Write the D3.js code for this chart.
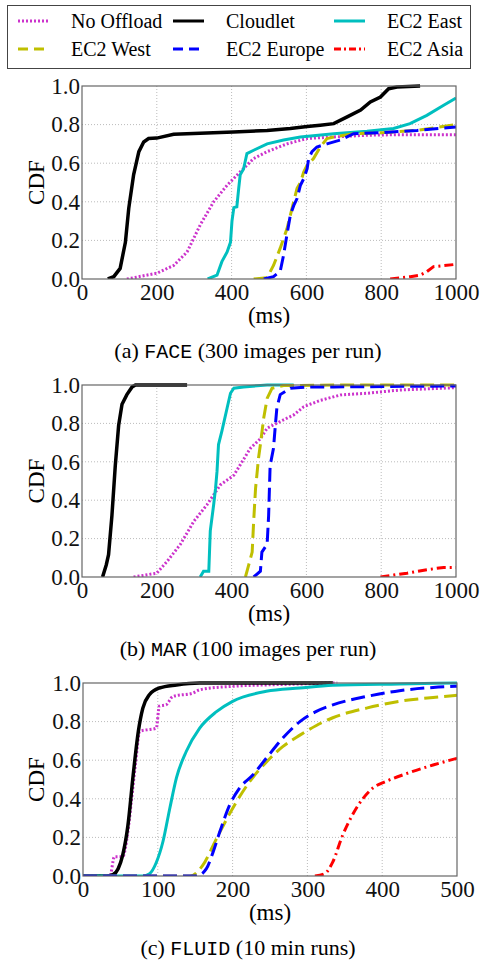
<!DOCTYPE html>
<html>
<head>
<meta charset="utf-8">
<script src="https://cdn.jsdelivr.net/npm/d3@7.9.0/dist/d3.min.js"></script>
<style>
  body { margin: 0; background: #fff; }
  svg { display: block; font-family: "Liberation Serif", "Times New Roman", serif; }
  .mono { font-family: "Liberation Mono", "Courier New", monospace; }
</style>
</head>
<body>
<svg id="chart" width="485" height="968"></svg>
<script>
// series names & styles (legend order)
const seriesNames = ["No Offload", "Cloudlet", "EC2 East", "EC2 West", "EC2 Europe", "EC2 Asia"];
const seriesColors = ["#cc33cc", "#000000", "#00bfbf", "#bfbf00", "#0000ff", "#ff0000"];
const seriesDash = ["2,2", null, null, "14,6", "14,6", "9,4,2,4"];
const legendDash = ["2,2", null, null, "10,6", "10,6", "7,3,2,3"];

// (a) FACE: [ms, cdf]
const faceNoOffload = [[120,0],[200,0.03],[245,0.07],[281,0.14],[316,0.28],[352,0.40],[388,0.486],[423,0.555],[459,0.624],[495,0.66],[548,0.70],[602,0.728],[673,0.736],[762,0.745],[851,0.748],[1000,0.748]];
const faceCloudlet = [[69,0],[85,0.012],[102,0.055],[116,0.19],[125,0.366],[138,0.54],[152,0.66],[165,0.71],[178,0.728],[200,0.73],[245,0.75],[316,0.755],[405,0.762],[495,0.77],[557,0.78],[602,0.79],[637,0.797],[673,0.805],[709,0.84],[745,0.875],[771,0.917],[798,0.943],[820,0.986],[842,0.995],[904,1.0]];
const faceEast = [[336,0],[361,0.02],[374,0.09],[388,0.14],[397,0.19],[401,0.30],[406,0.37],[414,0.374],[419,0.47],[423,0.54],[432,0.57],[441,0.65],[459,0.667],[495,0.70],[539,0.72],[584,0.736],[673,0.753],[762,0.766],[833,0.78],[877,0.805],[922,0.848],[967,0.90],[1000,0.938]];
const faceWest = [[459,0],[495,0.007],[512,0.07],[530,0.16],[548,0.26],[557,0.33],[566,0.40],[575,0.47],[584,0.50],[593,0.555],[602,0.59],[619,0.624],[637,0.684],[655,0.728],[673,0.736],[726,0.753],[807,0.759],[896,0.77],[1000,0.80]];
const faceEurope = [[486,0],[512,0.012],[530,0.04],[539,0.124],[548,0.23],[557,0.33],[566,0.38],[575,0.417],[584,0.486],[593,0.52],[602,0.572],[606,0.624],[615,0.66],[628,0.684],[655,0.70],[691,0.72],[726,0.753],[807,0.759],[896,0.77],[1000,0.788]];
const faceAsia = [[824,0],[878,0.012],[904,0.02],[922,0.038],[940,0.064],[967,0.069],[1000,0.076]];

// (b) MAR
const marNoOffload = [[138,0],[200,0.02],[227,0.08],[263,0.17],[299,0.29],[334,0.376],[370,0.48],[406,0.53],[423,0.584],[450,0.67],[477,0.72],[495,0.775],[530,0.81],[566,0.844],[593,0.887],[637,0.92],[691,0.948],[762,0.957],[851,0.974],[1000,0.986]];
const marCloudlet = [[55,0],[65,0.064],[71,0.116],[80,0.32],[89,0.58],[98,0.79],[107,0.90],[120,0.95],[134,0.99],[143,1.0],[281,1.0]];
const marEast = [[316,0],[325,0.03],[339,0.03],[343,0.24],[352,0.376],[357,0.46],[361,0.55],[365,0.69],[374,0.76],[388,0.88],[397,0.957],[406,0.983],[432,0.99],[495,1.0],[566,1.0]];
const marWest = [[437,0],[446,0.064],[455,0.13],[459,0.29],[464,0.46],[472,0.62],[477,0.69],[486,0.83],[495,0.93],[508,0.983],[539,0.997],[673,1.0],[1000,1.0]];
const marEurope = [[459,0],[477,0.03],[481,0.13],[495,0.17],[499,0.32],[503,0.58],[512,0.67],[517,0.79],[521,0.88],[530,0.95],[557,0.983],[602,0.99],[673,0.99],[1000,0.995]];
const marAsia = [[798,0],[833,0.01],[869,0.02],[922,0.038],[967,0.05],[1000,0.05]];

// (c) FLUID
const fluidNoOffload = [[0,0],[36,0],[42,0.1],[53,0.1],[60,0.23],[65,0.40],[70,0.575],[76,0.75],[85,0.757],[98,0.766],[102,0.88],[111,0.887],[120,0.93],[147,0.948],[156,0.965],[200,0.983],[245,0.99],[290,0.995],[340,1.0]];
const fluidCloudlet = [[0,0],[31,0],[40,0.007],[47,0.038],[53,0.107],[60,0.26],[67,0.52],[74,0.75],[80,0.87],[89,0.94],[102,0.974],[125,0.99],[156,1.0],[334,1.0]];
const fluidEast = [[0,0],[80,0],[89,0.012],[98,0.07],[107,0.18],[116,0.35],[125,0.51],[138,0.645],[156,0.766],[178,0.85],[200,0.905],[245,0.957],[290,0.974],[334,0.988],[423,0.995],[500,1.0]];
const fluidWest = [[0,0],[143,0],[160,0.055],[178,0.19],[200,0.35],[223,0.49],[245,0.59],[267,0.67],[290,0.73],[312,0.78],[334,0.82],[379,0.87],[423,0.905],[468,0.925],[500,0.936]];
const fluidEurope = [[0,0],[152,0],[165,0.038],[174,0.125],[183,0.23],[196,0.367],[209,0.454],[227,0.523],[245,0.61],[267,0.714],[290,0.80],[312,0.853],[334,0.887],[379,0.93],[423,0.96],[468,0.977],[500,0.983]];
const fluidAsia = [[310,0],[323,0.012],[334,0.073],[347,0.21],[360,0.315],[374,0.40],[387,0.454],[405,0.49],[432,0.53],[468,0.575],[500,0.61]];

const yTicks = [0, 0.2, 0.4, 0.6, 0.8, 1.0];
const xTicksLong = [0, 200, 400, 600, 800, 1000];
const xTicksShort = [0, 100, 200, 300, 400, 500];

const panels = [
  { id: "a", label: "(a) ", tag: "FACE", rest: " (300 images per run)",
    box: [82, 86, 456, 279], xMax: 1000, xTicks: xTicksLong, smooth: false,
    data: [faceNoOffload, faceCloudlet, faceEast, faceWest, faceEurope, faceAsia] },
  { id: "b", label: "(b) ", tag: "MAR", rest: " (100 images per run)",
    box: [82, 385, 456, 577], xMax: 1000, xTicks: xTicksLong, smooth: false,
    data: [marNoOffload, marCloudlet, marEast, marWest, marEurope, marAsia] },
  { id: "c", label: "(c) ", tag: "FLUID", rest: " (10 min runs)",
    box: [83, 683, 457, 876], xMax: 500, xTicks: xTicksShort, smooth: true,
    data: [fluidNoOffload, fluidCloudlet, fluidEast, fluidWest, fluidEurope, fluidAsia] }
];

const svg = d3.select("#chart");

// legend
const lg = svg.append("g");
lg.append("rect").attr("x", 7.5).attr("y", 5.5).attr("width", 463).attr("height", 63)
  .attr("fill", "#fff").attr("stroke", "#444").attr("stroke-width", 1);
const legCols = [18, 173, 334];
const legRows = [21, 49];
seriesNames.forEach((name, i) => {
  const cx = legCols[i % 3], cy = legRows[Math.floor(i / 3)];
  lg.append("line").attr("x1", cx).attr("x2", cx + 31).attr("y1", cy).attr("y2", cy)
    .attr("stroke", seriesColors[i]).attr("stroke-width", 3)
    .attr("stroke-dasharray", legendDash[i]);
  lg.append("text").attr("x", cx + 53).attr("y", cy + 7).attr("font-size", 20).text(name);
});

panels.forEach(p => {
  const [x0, y0, x1, y1] = p.box;
  const x = d3.scaleLinear().domain([0, p.xMax]).range([x0, x1]);
  const y = d3.scaleLinear().domain([0, 1]).range([y1, y0]);
  const g = svg.append("g");

  // grid
  g.selectAll(".gx").data(p.xTicks.slice(1, -1)).join("line")
    .attr("x1", d => x(d)).attr("x2", d => x(d)).attr("y1", y0).attr("y2", y1)
    .attr("stroke", "#bbb").attr("stroke-width", 1).attr("stroke-dasharray", "1,2");
  g.selectAll(".gy").data(yTicks.slice(1, -1)).join("line")
    .attr("x1", x0).attr("x2", x1).attr("y1", d => y(d)).attr("y2", d => y(d))
    .attr("stroke", "#bbb").attr("stroke-width", 1).attr("stroke-dasharray", "1,2");

  // clip
  svg.append("clipPath").attr("id", "clip-" + p.id).append("rect")
    .attr("x", x0).attr("y", y0 - 2).attr("width", x1 - x0).attr("height", y1 - y0 + 2);

  const line = d3.line().x(d => x(d[0])).y(d => y(d[1]))
    .curve(p.smooth ? d3.curveMonotoneX : d3.curveLinear);
  p.data.forEach((series, i) => {
    g.append("path").datum(series).attr("d", line)
      .attr("clip-path", `url(#clip-${p.id})`)
      .attr("fill", "none").attr("stroke", seriesColors[i])
      .attr("stroke-width", i == 1 ? 3.5 : 3)
      .attr("stroke-dasharray", seriesDash[i]);
  });

  // frame
  g.append("rect").attr("x", x0).attr("y", y0).attr("width", x1 - x0).attr("height", y1 - y0)
    .attr("fill", "none").attr("stroke", "#666").attr("stroke-width", 1.2);

  // axes (labels only)
  const xa = g.append("g").attr("transform", `translate(0,${y1})`)
    .call(d3.axisBottom(x).tickValues(p.xTicks).tickSize(0).tickPadding(5).tickFormat(d3.format("d")));
  const ya = g.append("g").attr("transform", `translate(${x0},0)`)
    .call(d3.axisLeft(y).tickValues(yTicks).tickSize(0).tickPadding(2).tickFormat(d3.format(".1f")));
  [xa, ya].forEach(a => {
    a.select(".domain").remove();
    a.selectAll("text").attr("font-family", "Liberation Serif, serif").attr("font-size", 23).attr("fill", "#111");
  });

  g.append("text").attr("transform", `translate(44,${(y0 + y1) / 2}) rotate(-90)`)
    .attr("text-anchor", "middle").attr("font-size", 23).text("CDF");
  g.append("text").attr("x", (x0 + x1) / 2).attr("y", y1 + 44)
    .attr("text-anchor", "middle").attr("font-size", 23).text("(ms)");
  const cap = g.append("text").attr("x", 248).attr("y", y1 + 79)
    .attr("text-anchor", "middle").attr("font-size", 22);
  cap.append("tspan").text(p.label);
  cap.append("tspan").attr("class", "mono").attr("font-size", 20).text(p.tag);
  cap.append("tspan").text(p.rest);
});
</script>
</body>
</html>
